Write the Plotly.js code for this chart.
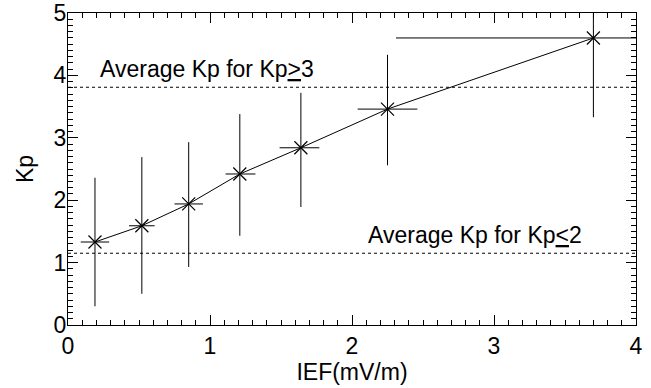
<!DOCTYPE html>
<html><head><meta charset="utf-8">
<script src="https://cdn.plot.ly/plotly-3.0.1.min.js"></script>
<style>html,body{margin:0;padding:0;background:#fff}</style>
</head><body><div id="chart" style="width:651px;height:388px"></div>
<script>
const ief = [0.19, 0.52, 0.85, 1.21, 1.64, 2.25, 3.70];
const kp = [1.33, 1.59, 1.94, 2.42, 2.84, 3.46, 4.60];
const kpErrPlus = [1.03, 1.10, 0.99, 0.96, 0.88, 0.87, 0.60];
const kpErrMinus = [1.03, 1.09, 1.01, 0.99, 0.95, 0.90, 1.27];
const iefErrPlus = [0.10, 0.09, 0.10, 0.11, 0.13, 0.21, 0.50];
const iefErrMinus = [0.10, 0.09, 0.10, 0.10, 0.15, 0.21, 1.39];
const avgHigh = 3.81;
const avgLow = 1.15;
const labelHigh = 'Average Kp for Kp<u>&gt;</u>3';
const labelLow = 'Average Kp for Kp<u>&lt;</u>2';

const font = {family: 'Liberation Sans, Arial, sans-serif', color: '#000'};
const traces = [
  {x: [0, 4], y: [avgHigh, avgHigh], mode: 'lines', line: {color: '#000', width: 1, dash: 'dot'}, hoverinfo: 'skip'},
  {x: [0, 4], y: [avgLow, avgLow], mode: 'lines', line: {color: '#000', width: 1, dash: 'dot'}, hoverinfo: 'skip'},
  {x: ief, y: kp, mode: 'lines+markers',
   line: {color: '#000', width: 1},
   marker: {symbol: 'x-thin-open', size: 13, color: '#000', line: {color: '#000', width: 1.2}},
   error_y: {type: 'data', symmetric: false, array: kpErrPlus, arrayminus: kpErrMinus, color: '#000', thickness: 1, width: 0},
   error_x: {type: 'data', symmetric: false, array: iefErrPlus, arrayminus: iefErrMinus, color: '#000', thickness: 1, width: 0}
  }
];
const axBase = {
  showgrid: false, zeroline: false, showline: true, linecolor: '#000', linewidth: 1,
  mirror: 'ticks', ticks: 'inside', ticklen: 10, tickwidth: 1, tickcolor: '#000',
  tickfont: Object.assign({size: 23}, font),
  minor: {ticks: 'inside', ticklen: 5, tickwidth: 1, tickcolor: '#000', dtick: 0.1}
};
const layout = {
  width: 651, height: 388,
  margin: {l: 68, r: 15, t: 13, b: 63},
  paper_bgcolor: '#fff', plot_bgcolor: '#fff',
  showlegend: false,
  xaxis: Object.assign({}, axBase, {range: [0, 4], dtick: 1, tick0: 0, ticklabelstandoff: 0,
    title: {text: 'IEF(mV/m)', font: Object.assign({size: 23}, font), standoff: 0}}),
  yaxis: Object.assign({}, axBase, {range: [0, 5], dtick: 1, tick0: 0, ticklabelstandoff: -4,
    title: {text: 'Kp', font: Object.assign({size: 23}, font), standoff: 13}}),
  annotations: [
    {x: 0.21, y: avgHigh, xref: 'x', yref: 'y', text: labelHigh, showarrow: false, xanchor: 'left', yanchor: 'bottom', yshift: 3, font: Object.assign({size: 23}, font)},
    {x: 2.10, y: avgLow, xref: 'x', yref: 'y', text: labelLow, showarrow: false, xanchor: 'left', yanchor: 'bottom', yshift: 3, font: Object.assign({size: 23}, font)}
  ]
};
Plotly.newPlot('chart', traces, layout, {displayModeBar: false, staticPlot: true});
</script></body></html>
